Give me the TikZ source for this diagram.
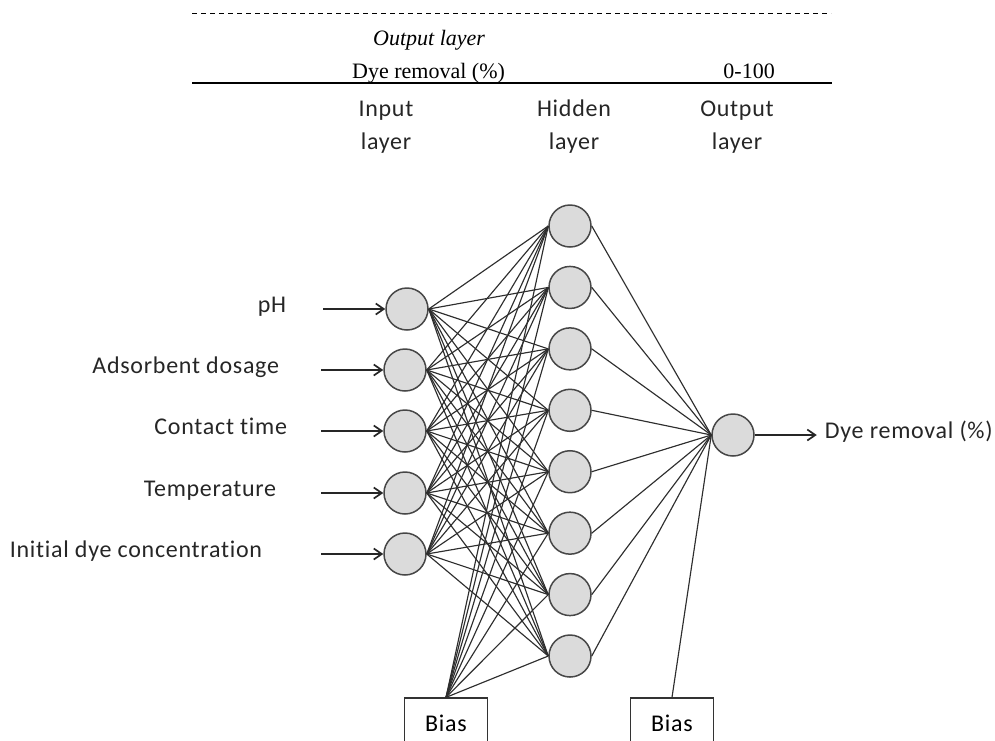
\documentclass[tikz,border=0pt]{standalone}
\usepackage{fontspec}
\setmainfont{Liberation Serif}
\newfontfamily\calfont[LetterSpace=3,Ligatures=NoCommon]{Carlito}
\usepackage{tikz}
\usetikzlibrary{arrows.meta,positioning}
\colorlet{nodegray}{black!14}
\colorlet{rimgray}{black!72}

\begin{document}
\begin{tikzpicture}[
  x=1pt,y=-1pt,
  >={Straight Barb[length=8pt,width=11pt]},
  neuron/.style = {circle,draw=rimgray,line width=1.5pt,fill=nodegray,
    minimum size=42pt,inner sep=0pt},
  biasbox/.style = {draw=black!80,line width=1.3pt,minimum width=83pt,
    minimum height=50pt,inner sep=0pt,font=\calfont\fontsize{24}{33}\selectfont},
  lab/.style = {inner sep=0pt,text=black!85,font=\calfont\fontsize{24}{33}\selectfont},
  tab/.style = {inner sep=0pt,font=\fontsize{22}{26}\selectfont},
  conn/.style = {black!82,line width=1.15pt},
  feed/.style = {->,black!85,line width=1.7pt}
  ]
  \useasboundingbox (0,0) rectangle (995,740);
  % Table rows
  \draw[dash pattern=on 5pt off 4pt,line width=0.8pt] (192,13) -- (831,13);
  \node[tab,anchor=base west,font=\itshape\fontsize{22}{26}\selectfont] (tabhead) at (373,45) {Output layer};
  \node[tab,anchor=base west] (tabvar) at (352,78) {Dye removal (\%)};
  \node[tab,anchor=base east] (tabrange) at (775,78) {0-100};
  \draw[line width=1.6pt] (192,83) -- (832,83);
  % Layer headings
  \foreach \x/\txt [count=\k] in {386/Input, 574/Hidden, 737/Output} {
    \node[lab,anchor=base] (head\k) at (\x,116) {\txt};
    \node[lab,anchor=base] (layer\k) at (\x,149) {layer};
  }
  % Neurons
  \foreach \x/\y [count=\i] in {407/309, 405/370, 405/431, 405/493, 405/554}
    \node[neuron] (in\i) at (\x,\y) {};
  \foreach \i in {1,...,8}
    \node[neuron] (hid\i) at (570,{226+61.43*(\i-1)}) {};
  \node[neuron] (out) at (733,435) {};
  \node[biasbox] (bias1) at (446,723) {Bias};
  \node[biasbox] (bias2) at (672,723) {Bias};
  % Weights
  \foreach \i in {1,...,5}
    \foreach \j in {1,...,8}
      \draw[conn] (in\i.east) -- (hid\j.west);
  \foreach \j in {1,...,8} {
    \draw[conn] (bias1.north) -- (hid\j.west);
    \draw[conn] (hid\j.east) -- (out.west);
  }
  \draw[conn] (bias2.north) -- (out.west);
  % Inputs
  \foreach \txt/\dx [count=\i] in {pH/-37, Adsorbent dosage/-42, Contact time/-34,
      Temperature/-45, Initial dye concentration/-59} {
    \path (in\i.west) ++(-62,0) coordinate (src\i);
    \draw[feed] (src\i) -- (in\i.west);
    \node[lab,anchor=base east] (name\i) at ([xshift=\dx pt,yshift=-3pt]src\i) {\txt};
  }
  % Output
  \path (out.east) ++(62,0) coordinate (res);
  \draw[feed] (out.east) -- (res);
  \node[lab,anchor=base west] (resname) at ([xshift=8pt,yshift=-3pt]res) {Dye removal (\%)};
\end{tikzpicture}
\end{document}
